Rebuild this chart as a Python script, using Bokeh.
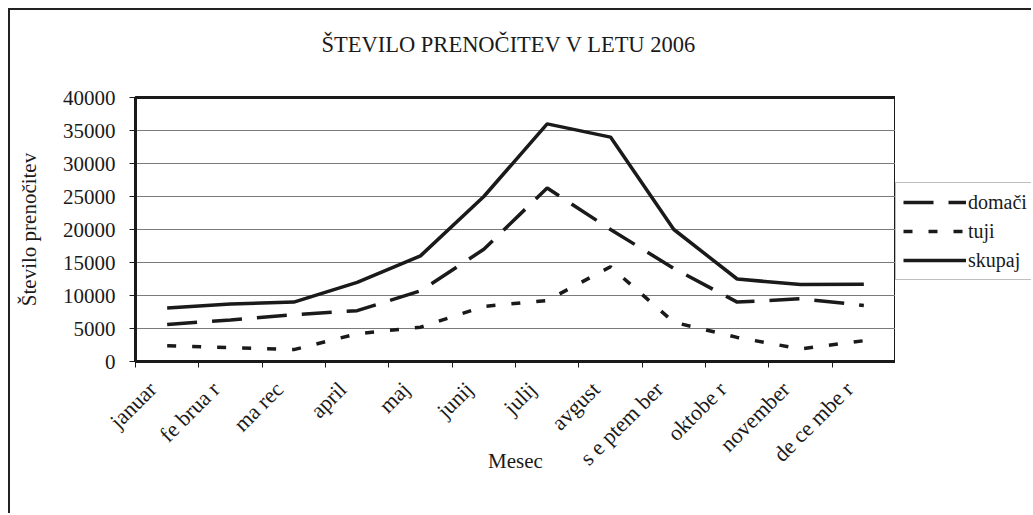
from bokeh.plotting import figure
from bokeh.layouts import row
from bokeh.models import FixedTicker, Legend, LegendItem, Range1d, Title
from bokeh.embed import file_html
from bokeh.resources import INLINE

months = ["januar", "fe brua r", "ma rec", "april", "maj", "junij", "julij",
          "avgust", "s e ptem ber", "oktobe r", "november", "de ce mbe r"]
domaci = [5600, 6300, 7100, 7700, 10700, 17000, 26300, 20000, 14100, 9000, 9500, 8500]
tuji = [2400, 2100, 1800, 4200, 5200, 8350, 9250, 14350, 5950, 3650, 1900, 3150]
skupaj = [8100, 8700, 9000, 12000, 16000, 25000, 36000, 34000, 20000, 12500, 11650, 11700]
y_ticks = [0, 5000, 10000, 15000, 20000, 25000, 30000, 35000, 40000]
series_names = ["domači", "tuji", "skupaj"]
chart_title = "ŠTEVILO PRENOČITEV V LETU 2006"

FONT = "Liberation Serif"
INK = "#1a1a1a"
BORDER = "2px solid #222"
LABEL_SHIFT = 0.23  # rotated month labels end a little left of the category centre

x = [i + 0.5 for i in range(len(months))]
label_pos = [xv - LABEL_SHIFT for xv in x]

p = figure(width=887, height=505, output_backend="svg", toolbar_location=None,
           x_range=Range1d(0, len(months)), y_range=Range1d(0, 40000),
           min_border_left=125, min_border_right=2, min_border_top=87,
           min_border_bottom=154)
p.styles = {"border-top": BORDER, "border-left": BORDER}

# real title, with a thin spacer title between it and the frame
p.title.text = chart_title
p.title.align = "left"
p.title.offset = 186
p.title.standoff = 0
p.title.text_font = FONT
p.title.text_font_size = "22.5px"
p.title.text_font_style = "normal"
p.title.text_color = INK
spacer = Title(text=" ", text_font_size="1px", standoff=38)
p.add_layout(spacer, "above")

p.outline_line_color = INK
p.outline_line_width = 3
p.outline_line_alpha = 1

# axes
xa = p.xaxis[0]
xa.ticker = FixedTicker(ticks=label_pos, minor_ticks=list(range(len(months) + 1)))
xa.major_label_overrides = {lp: m for lp, m in zip(label_pos, months)}
xa.major_label_orientation = 0.785398
xa.major_tick_out = 0
xa.major_tick_in = 0
xa.minor_tick_out = 6
xa.minor_tick_in = 0
xa.minor_tick_line_color = INK
xa.axis_line_color = INK
xa.axis_line_width = 3
xa.major_label_text_font = FONT
xa.major_label_text_font_size = "22px"
xa.major_label_text_color = INK
xa.major_label_standoff = 18
xa.axis_label = "Mesec"
xa.axis_label_text_font = FONT
xa.axis_label_text_font_size = "21px"
xa.axis_label_text_font_style = "normal"
xa.axis_label_text_color = INK
xa.axis_label_standoff = -33

ya = p.yaxis[0]
ya.ticker = FixedTicker(ticks=y_ticks, minor_ticks=[])
ya.major_tick_out = 6
ya.major_tick_in = 0
ya.major_tick_line_color = INK
ya.axis_line_color = INK
ya.axis_line_width = 3
ya.major_label_text_font = FONT
ya.major_label_text_font_size = "21px"
ya.major_label_text_color = INK
ya.major_label_standoff = 14
ya.formatter.use_scientific = False
ya.axis_label = "Število prenočitev"
ya.axis_label_text_font = FONT
ya.axis_label_text_font_size = "21px"
ya.axis_label_text_font_style = "normal"
ya.axis_label_text_color = INK
ya.axis_label_standoff = 19

p.xgrid.grid_line_color = None
p.ygrid.ticker = FixedTicker(ticks=y_ticks)
p.ygrid.grid_line_color = "#7a7a7a"
p.ygrid.grid_line_width = 1

styles = [dict(line_dash="30 15"), dict(line_dash="9 16"), dict(line_dash="solid")]
series = [domaci, tuji, skupaj]
for vals, st in zip(series, styles):
    p.line(x, vals, line_color=INK, line_width=3.5, **st)

# legend panel: a separate canvas so the box can sit outside the plot frame.
# Its frame is aligned with the main frame by the row layout; the proxy lines
# carry the same data but lie outside this canvas' visible range.
lg = figure(width=136, height=505, output_backend="svg", toolbar_location=None,
            x_axis_location=None, y_axis_location=None,
            x_range=Range1d(-3, -2), y_range=Range1d(0, 40000),
            min_border_left=0, min_border_right=0, min_border_top=87,
            min_border_bottom=154)
lg.styles = {"border-top": BORDER}
lg.outline_line_color = None
lg.xgrid.visible = False
lg.ygrid.visible = False
items = []
for name, vals, st in zip(series_names, series, styles):
    r = lg.line(x, vals, line_color=INK, line_width=3.5, **st)
    items.append(LegendItem(label=name, renderers=[r]))

legend = Legend(items=items, location=(0, 81))
legend.glyph_width = 63
legend.glyph_height = 24
legend.label_standoff = 2
legend.spacing = 5
legend.padding = 7
legend.margin = 0
legend.label_text_font = FONT
legend.label_text_font_size = "20px"
legend.label_text_color = INK
legend.border_line_color = "#7f7f7f"
legend.border_line_width = 1
legend.background_fill_color = "white"
legend.background_fill_alpha = 1
lg.add_layout(legend)

layout = row(p, lg, spacing=0, margin=(8, 0, 0, 8))
open("out.html", "w").write(file_html(layout, INLINE))
